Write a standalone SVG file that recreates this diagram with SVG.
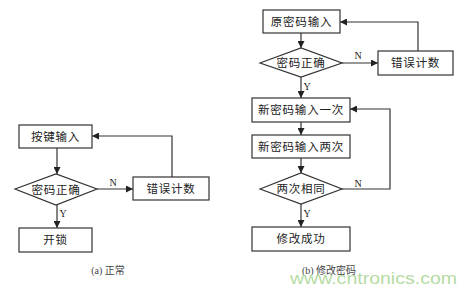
<svg xmlns="http://www.w3.org/2000/svg" width="468" height="292" viewBox="0 0 468 292">
<defs>
<marker id="ah" viewBox="0 0 10 10" refX="10" refY="5" markerWidth="7" markerHeight="7" markerUnits="userSpaceOnUse" orient="auto">
<path d="M0,0 L10,5 L0,10 z" fill="#222"/>
</marker>
</defs>
<style>
.box{fill:#fff;stroke:#333;stroke-width:1.2}
.t{font-family:"Liberation Serif","Noto Sans CJK SC",serif;font-size:11.5px;fill:#222;text-anchor:middle;dominant-baseline:central;letter-spacing:0.8px}
.lbl{font-family:"Liberation Serif","Noto Sans CJK SC",serif;font-size:10px;fill:#222;text-anchor:middle;dominant-baseline:central}
.cap{font-family:"Liberation Serif","Noto Sans CJK SC",serif;font-size:10px;fill:#444;text-anchor:middle;dominant-baseline:central}
.ln{fill:none;stroke:#333;stroke-width:1.2}
</style>
<rect width="468" height="292" fill="#fff"/>
<g id="connectors">
<path class="ln" d="M57,148 V174" marker-end="url(#ah)"/>
<path class="ln" d="M97,189 H133" marker-end="url(#ah)"/>
<path class="ln" d="M172,177 V136 H92" marker-end="url(#ah)"/>
<path class="ln" d="M57,205 V228" marker-end="url(#ah)"/>
<path class="ln" d="M301,33 V48" marker-end="url(#ah)"/>
<path class="ln" d="M342,63 H378" marker-end="url(#ah)"/>
<path class="ln" d="M418,51 V22 H340" marker-end="url(#ah)"/>
<path class="ln" d="M301,77 V98" marker-end="url(#ah)"/>
<path class="ln" d="M301,122 V135" marker-end="url(#ah)"/>
<path class="ln" d="M301,158 V173" marker-end="url(#ah)"/>
<path class="ln" d="M342,189 H390 V109 H350" marker-end="url(#ah)"/>
<path class="ln" d="M301,204 V227" marker-end="url(#ah)"/>
<text class="lbl" x="113" y="182">N</text>
<text class="lbl" x="63" y="213">Y</text>
<text class="lbl" x="358" y="55">N</text>
<text class="lbl" x="307" y="86">Y</text>
<text class="lbl" x="358" y="183">N</text>
<text class="lbl" x="307" y="213">Y</text>
</g>
<g id="a_input"><rect class="box" x="19" y="125" width="73" height="23"/><text class="t" x="55.5" y="136.5">按键输入</text></g>
<g id="a_check"><polygon class="box" points="15,189 56,174 97,189 56,205"/><text class="t" x="56" y="189.5">密码正确</text></g>
<g id="a_err"><rect class="box" x="133" y="177" width="76" height="23"/><text class="t" x="171" y="188.5">错误计数</text></g>
<g id="a_open"><rect class="box" x="19" y="228" width="73" height="24"/><text class="t" x="55.5" y="240">开锁</text></g>
<g id="b_old"><rect class="box" x="263" y="10" width="77" height="23"/><text class="t" x="301.5" y="21.5">原密码输入</text></g>
<g id="b_check"><polygon class="box" points="260,63 301,48 342,63 301,77"/><text class="t" x="301" y="63">密码正确</text></g>
<g id="b_err"><rect class="box" x="378" y="51" width="75" height="24"/><text class="t" x="415.5" y="63">错误计数</text></g>
<g id="b_new1"><rect class="box" x="252" y="98" width="98" height="24"/><text class="t" x="301" y="110">新密码输入一次</text></g>
<g id="b_new2"><rect class="box" x="252" y="135" width="98" height="23"/><text class="t" x="301" y="146.5">新密码输入两次</text></g>
<g id="b_same"><polygon class="box" points="260,189 301,173 342,189 301,204"/><text class="t" x="301" y="189">两次相同</text></g>
<g id="b_ok"><rect class="box" x="252" y="227" width="98" height="24"/><text class="t" x="301" y="239">修改成功</text></g>
<text class="cap" x="108" y="270">(a)  正常</text>
<text class="cap" x="329" y="270">(b)  修改密码</text>
<text x="290" y="284" font-family="Liberation Sans, Arial, sans-serif" font-size="16" fill="#b5dba3" textLength="167" lengthAdjust="spacingAndGlyphs">www.cntronics.com</text>
</svg>
